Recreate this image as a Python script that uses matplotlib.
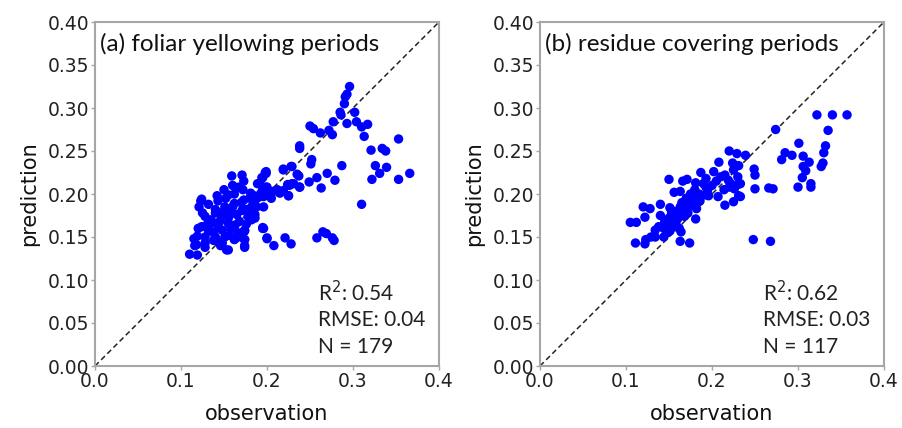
import matplotlib
matplotlib.use("Agg")
import matplotlib.pyplot as plt
import numpy as np

# ---------------- data ----------------
# panel (a): foliar yellowing periods
obs_a = [
    0.296, 0.293, 0.291, 0.290, 0.285, 0.286, 0.302, 0.293, 0.304, 0.277,
    0.317, 0.310, 0.313, 0.250, 0.254, 0.262, 0.272, 0.276, 0.353, 0.238,
    0.238, 0.321, 0.334, 0.338, 0.252, 0.251, 0.287, 0.326, 0.339, 0.219,
    0.228, 0.270, 0.331, 0.366, 0.235, 0.237, 0.258, 0.249, 0.279, 0.322,
    0.353, 0.229, 0.226, 0.238, 0.263, 0.199, 0.194, 0.192, 0.219, 0.214,
    0.225, 0.310, 0.195, 0.174, 0.200, 0.221, 0.228, 0.208, 0.258, 0.265,
    0.269, 0.276, 0.278, 0.174, 0.174,
    0.159, 0.171, 0.173, 0.167, 0.198, 0.195, 0.189, 0.199, 0.181, 0.155,
    0.143, 0.123, 0.121, 0.151, 0.162, 0.173, 0.185, 0.193, 0.202, 0.128,
    0.140, 0.147, 0.159, 0.171, 0.182, 0.178, 0.186, 0.130, 0.136, 0.143,
    0.155, 0.163, 0.174, 0.195, 0.119, 0.132, 0.140, 0.151, 0.163, 0.174,
    0.200, 0.116, 0.128, 0.143, 0.153, 0.174, 0.110, 0.119,
    0.124, 0.124, 0.133, 0.118, 0.128, 0.155, 0.148, 0.138, 0.162, 0.173,
    0.219, 0.229, 0.199, 0.200, 0.207, 0.215, 0.225, 0.224, 0.231, 0.238,
    0.196, 0.196,
    0.135, 0.145, 0.150, 0.155, 0.160, 0.165, 0.170, 0.175, 0.180, 0.185,
    0.190, 0.195, 0.148, 0.158, 0.168, 0.178, 0.188, 0.125, 0.132, 0.142,
    0.152, 0.162, 0.172, 0.138, 0.128, 0.146, 0.156, 0.166, 0.176, 0.186,
    0.196, 0.205, 0.212, 0.120, 0.115, 0.160, 0.150, 0.182, 0.170, 0.140,
]
pred_a = [
    0.325, 0.316, 0.313, 0.305, 0.295, 0.292, 0.295, 0.282, 0.284, 0.284,
    0.281, 0.278, 0.267, 0.279, 0.276, 0.271, 0.274, 0.269, 0.264, 0.256,
    0.253, 0.251, 0.253, 0.250, 0.240, 0.235, 0.233, 0.233, 0.231, 0.229,
    0.232, 0.224, 0.224, 0.224, 0.223, 0.221, 0.219, 0.214, 0.216, 0.217,
    0.217, 0.212, 0.210, 0.208, 0.207, 0.226, 0.219, 0.212, 0.204, 0.202,
    0.198, 0.188, 0.161, 0.157, 0.149, 0.149, 0.142, 0.140, 0.149, 0.156,
    0.154, 0.149, 0.146, 0.147, 0.140,
    0.221, 0.222, 0.215, 0.208, 0.225, 0.219, 0.212, 0.208, 0.201, 0.199,
    0.192, 0.192, 0.185, 0.185, 0.189, 0.193, 0.198, 0.201, 0.202, 0.174,
    0.178, 0.174, 0.178, 0.181, 0.185, 0.174, 0.172, 0.164, 0.167, 0.162,
    0.166, 0.164, 0.158, 0.160, 0.151, 0.157, 0.150, 0.150, 0.148, 0.147,
    0.148, 0.140, 0.143, 0.145, 0.135, 0.138, 0.130, 0.129,
    0.194, 0.162, 0.158, 0.141, 0.138, 0.135, 0.143, 0.146, 0.147, 0.156,
    0.228, 0.232, 0.224, 0.208, 0.203, 0.201, 0.198, 0.211, 0.212, 0.208,
    0.197, 0.160,
    0.170, 0.168, 0.180, 0.172, 0.185, 0.176, 0.190, 0.182, 0.195, 0.190,
    0.196, 0.205, 0.158, 0.160, 0.168, 0.178, 0.185, 0.178, 0.188, 0.198,
    0.195, 0.200, 0.205, 0.155, 0.150, 0.140, 0.152, 0.155, 0.165, 0.176,
    0.185, 0.195, 0.205, 0.160, 0.148, 0.210, 0.205, 0.170, 0.150, 0.182,
]

# panel (b): residue covering periods
obs_b = [
    0.220, 0.229, 0.239, 0.208, 0.224, 0.227, 0.225, 0.231, 0.202, 0.187,
    0.215, 0.150, 0.166, 0.171, 0.181, 0.193, 0.219, 0.230, 0.226, 0.220,
    0.156, 0.163, 0.193, 0.192, 0.207, 0.231, 0.179, 0.174, 0.225, 0.215,
    0.140, 0.120, 0.128, 0.122, 0.151, 0.153, 0.163, 0.169, 0.174, 0.182,
    0.160, 0.168, 0.181, 0.105, 0.112, 0.150, 0.157, 0.144, 0.151, 0.144,
    0.129, 0.134, 0.164, 0.163, 0.174, 0.111, 0.122, 0.123,
    0.322, 0.340, 0.357, 0.274, 0.335, 0.301, 0.332, 0.330, 0.285, 0.293,
    0.281, 0.306, 0.313, 0.306, 0.309, 0.305, 0.329, 0.327, 0.249, 0.250,
    0.233, 0.233, 0.250, 0.266, 0.271, 0.300, 0.315, 0.315, 0.248, 0.268,
    0.140, 0.145, 0.150, 0.155, 0.160, 0.165, 0.170, 0.175, 0.180, 0.185,
    0.190, 0.195, 0.200, 0.205, 0.210, 0.158, 0.162, 0.148, 0.138, 0.172,
    0.178, 0.186, 0.196, 0.214, 0.222, 0.230, 0.168, 0.152, 0.134,
]
pred_b = [
    0.250, 0.247, 0.245, 0.237, 0.236, 0.232, 0.228, 0.233, 0.226, 0.225,
    0.222, 0.217, 0.215, 0.217, 0.213, 0.218, 0.216, 0.211, 0.206, 0.208,
    0.202, 0.203, 0.208, 0.199, 0.197, 0.198, 0.195, 0.192, 0.191, 0.187,
    0.188, 0.185, 0.183, 0.173, 0.184, 0.178, 0.185, 0.181, 0.186, 0.183,
    0.171, 0.174, 0.171, 0.167, 0.167, 0.167, 0.162, 0.160, 0.157, 0.150,
    0.150, 0.150, 0.156, 0.145, 0.143, 0.143, 0.142, 0.147,
    0.292, 0.292, 0.292, 0.275, 0.274, 0.259, 0.256, 0.248, 0.248, 0.245,
    0.240, 0.244, 0.237, 0.232, 0.227, 0.219, 0.236, 0.232, 0.229, 0.222,
    0.212, 0.197, 0.206, 0.207, 0.206, 0.208, 0.212, 0.208, 0.147, 0.145,
    0.175, 0.168, 0.172, 0.180, 0.176, 0.190, 0.195, 0.200, 0.205, 0.200,
    0.212, 0.205, 0.210, 0.215, 0.220, 0.165, 0.160, 0.155, 0.162, 0.178,
    0.188, 0.192, 0.198, 0.205, 0.212, 0.220, 0.185, 0.160, 0.158,
]

titles = ["(a) foliar yellowing periods", "(b) residue covering periods"]
stats_a = ["R$^2$: 0.54", "RMSE: 0.04", "N = 179"]
stats_b = ["R$^2$: 0.62", "RMSE: 0.03", "N = 117"]
x_ticks = [0.0, 0.1, 0.2, 0.3, 0.4]
y_ticks = [0.00, 0.05, 0.10, 0.15, 0.20, 0.25, 0.30, 0.35, 0.40]

# ---------------- figure ----------------
W, H = 902, 428
fig = plt.figure(figsize=(W / 100, H / 100), dpi=100)

panels = [
    (95, obs_a, pred_a, titles[0], stats_a),
    (540, obs_b, pred_b, titles[1], stats_b),
]
spine_col = "#a6a6a6"
txt_font = ["Lato", "DejaVu Sans"]

for left_px, xs, ys, title, stats in panels:
    ax = fig.add_axes([left_px / W, (H - 366) / H, 344 / W, 344 / H])
    ax.plot([0, 0.4], [0, 0.4], ls=(0, (3.5, 2.2)), color="#222222", lw=1.1, zorder=1)
    ax.scatter(xs, ys, s=46, color="#0000ff", edgecolors="none", zorder=2)
    ax.set_xlim(0, 0.4)
    ax.set_ylim(0, 0.4)
    ax.set_xticks(x_ticks)
    ax.set_xticklabels([f"{v:.1f}" for v in x_ticks])
    ax.set_yticks(y_ticks)
    ax.set_yticklabels([f"{v:.2f}" for v in y_ticks])
    for sp in ax.spines.values():
        sp.set_color(spine_col)
        sp.set_linewidth(1.5)
    ax.tick_params(axis="both", direction="out", length=3, width=1,
                   color=spine_col, labelsize=13.5, labelcolor="#222222", pad=1)
    ax.set_xlabel("observation", fontsize=15, labelpad=10, color="#111111")
    ax.set_ylabel("prediction", fontsize=15, labelpad=6, color="#111111")
    ax.text(0.015, 0.935, title, transform=ax.transAxes, fontsize=17.5,
            family=txt_font, ha="left", va="center", color="#111111")
    for i, s in enumerate(stats):
        ax.text(0.648, 0.214 - i * 0.080, s, transform=ax.transAxes,
                fontsize=15, family=txt_font, ha="left", va="center",
                color="#222222")

fig.savefig("out.png", dpi=100)
